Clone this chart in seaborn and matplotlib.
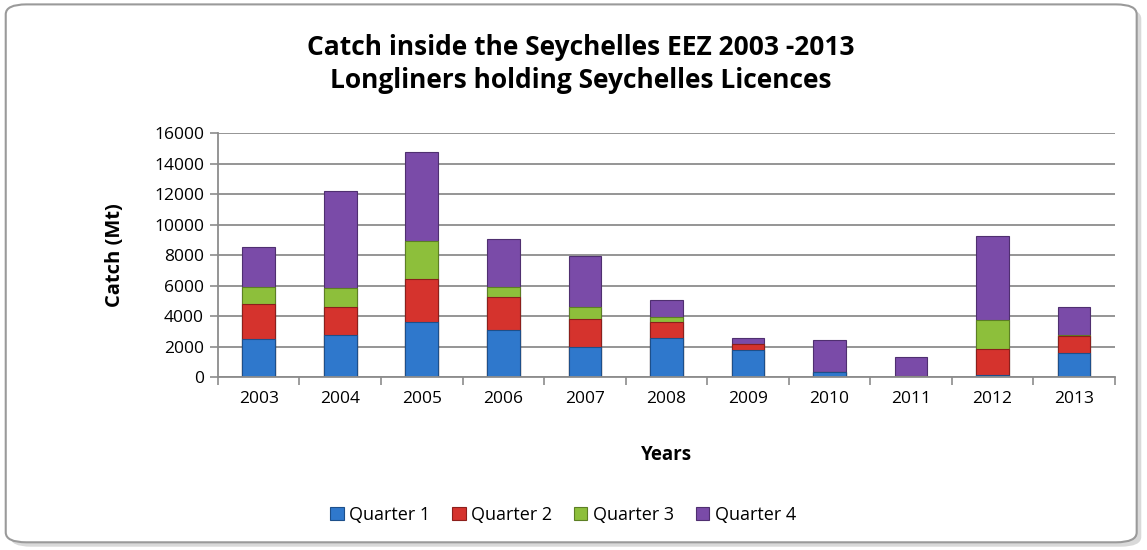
import numpy as np
import pandas as pd
import matplotlib.pyplot as plt
import seaborn as sns
from matplotlib.patches import FancyBboxPatch, Patch

# -------------------- DATA --------------------
YEARS = ["2003", "2004", "2005", "2006", "2007", "2008",
         "2009", "2010", "2011", "2012", "2013"]
QUARTER_1 = [2510, 2780, 3580, 3060, 1950, 2580, 1790, 350, 0, 130, 1600]
QUARTER_2 = [2280, 1810, 2870, 2210, 1850, 1000, 370, 0, 0, 1730, 1070]
QUARTER_3 = [1090, 1220, 2490, 610, 810, 330, 30, 0, 100, 1900, 60]
QUARTER_4 = [2620, 6410, 5790, 3150, 3350, 1160, 370, 2050, 1230, 5510, 1880]
QUARTERS = ["Quarter 1", "Quarter 2", "Quarter 3", "Quarter 4"]

TITLE = "Catch inside the Seychelles EEZ 2003 -2013\nLongliners holding Seychelles Licences"
Y_TICKS = list(range(0, 16001, 2000))

# -------------------- STYLE --------------------
COLORS = ["#2f78cc", "#d5332d", "#8dbf3b", "#7a4ba8"]
EDGES = ["#1d4f8a", "#8c1f1b", "#5c7f24", "#4f2f70"]
GRID = "#8c8c8c"

sns.set_theme(style="white")
plt.rcParams['font.family'] = ['Open Sans', 'DejaVu Sans']
plt.rcParams['text.color'] = 'black'

fig = plt.figure(figsize=(11.47, 5.5), dpi=100)

# rounded chart frame with a soft shadow
shadow = FancyBboxPatch((0.009, 0.006), 0.986, 0.978,
                        boxstyle="round,pad=0,rounding_size=0.018",
                        transform=fig.transFigure, facecolor="#d9d9d9",
                        edgecolor="none", zorder=0)
frame = FancyBboxPatch((0.005, 0.014), 0.986, 0.978,
                       boxstyle="round,pad=0,rounding_size=0.018",
                       transform=fig.transFigure, facecolor="white",
                       edgecolor="#9a9a9a", linewidth=1.5, zorder=0.5)
fig.patches.extend([shadow, frame])

ax = fig.add_axes([0.190, 0.3145, 0.782, 0.4436])
ax.set_zorder(2)
ax.patch.set_alpha(0)

# stacked bars: draw cumulative totals from top segment down
stacks = np.cumsum(np.array([QUARTER_1, QUARTER_2, QUARTER_3, QUARTER_4]), axis=0)
for i in range(3, -1, -1):
    df = pd.DataFrame({"Year": YEARS, "Catch": stacks[i]})
    sns.barplot(data=df, x="Year", y="Catch", color=COLORS[i], saturation=1,
                width=0.4, edgecolor=EDGES[i], linewidth=0.8, ax=ax)

# axes
ax.set_ylim(0, 16000)
ax.set_xlim(-0.5, len(YEARS) - 0.5)
ax.set_yticks(Y_TICKS)
ax.yaxis.grid(True, color=GRID, linewidth=1.3)
ax.set_axisbelow(True)
ax.set_xlabel("")
ax.set_ylabel("")

ax.set_xticks(np.arange(-0.5, len(YEARS), 1), minor=True)
ax.tick_params(axis="x", which="major", length=0, pad=10, labelsize=12.5, colors="black")
ax.tick_params(axis="x", which="minor", bottom=True, length=6, width=1.2, color=GRID)
ax.tick_params(axis="y", which="major", left=True, length=6, width=1.2, color=GRID,
               pad=4, labelsize=12.5, labelcolor="black")

for side in ["top", "right"]:
    ax.spines[side].set_visible(False)
for side in ["left", "bottom"]:
    ax.spines[side].set_color(GRID)
    ax.spines[side].set_linewidth(1.3)

# texts
fig.text(0.506, 0.884, TITLE, ha="center", va="center", fontsize=19,
         fontweight="bold", linespacing=1.3)
fig.text(0.100, 0.536, "Catch (Mt)", rotation=90, ha="center", va="center",
         fontsize=14.5, fontweight="bold")
fig.text(0.581, 0.173, "Years", ha="center", va="center",
         fontsize=13.5, fontweight="bold")

# legend
handles = [Patch(facecolor=c, edgecolor=e, linewidth=0.8) for c, e in zip(COLORS, EDGES)]
fig.legend(handles, QUARTERS, loc="center", bbox_to_anchor=(0.491, 0.064), ncol=4,
           frameon=False, fontsize=13, handlelength=0.75, handleheight=0.75,
           handletextpad=0.3, columnspacing=1.2)

fig.savefig("out.png", dpi=100)
